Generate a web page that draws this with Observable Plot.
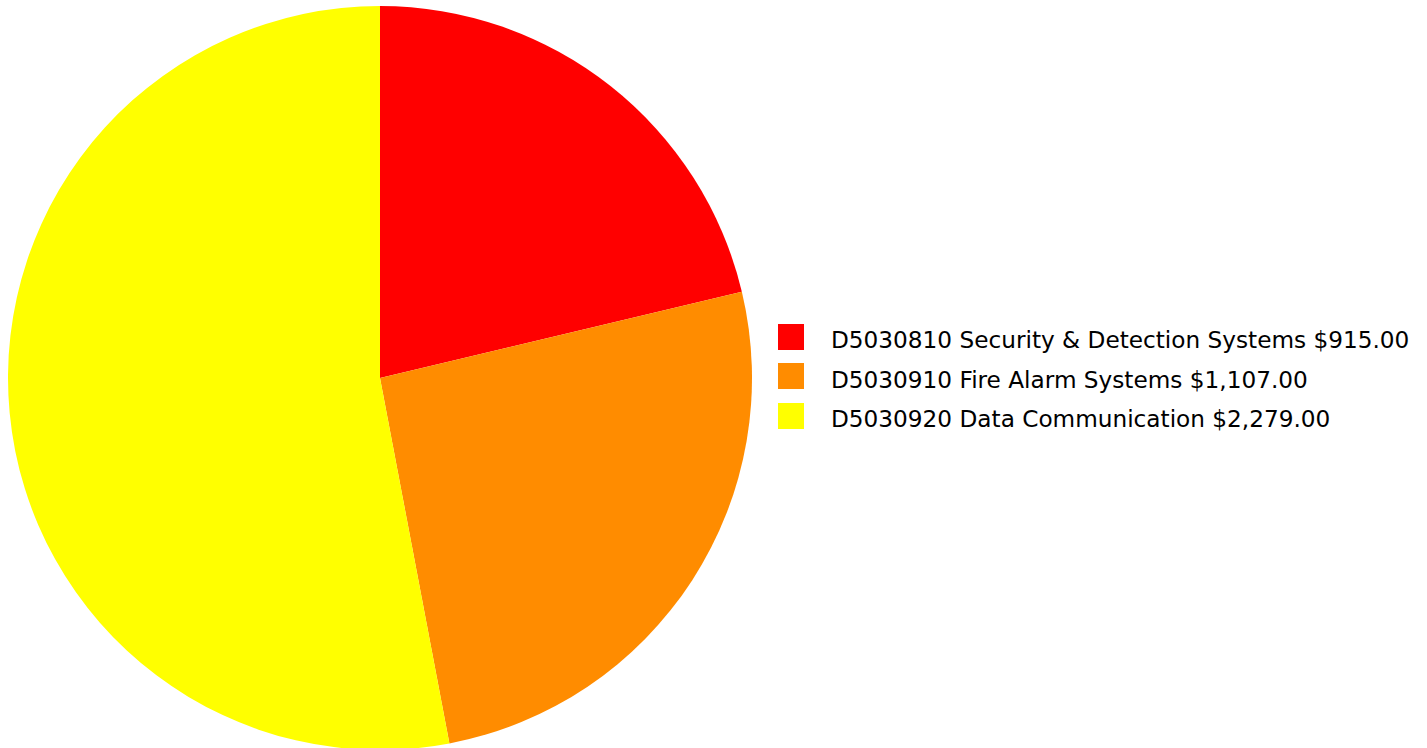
<!DOCTYPE html>
<html>
<head>
<meta charset="utf-8">
<script src="https://cdn.jsdelivr.net/npm/d3@7"></script>
<script src="https://cdn.jsdelivr.net/npm/@observablehq/plot@0.6"></script>
<style>
  html, body { margin: 0; padding: 0; background: #fff; }
  #wrap { position: relative; width: 1427px; height: 748px; overflow: hidden; }
  #legend { position: absolute; left: 778px; top: 317px; font-family: "DejaVu Sans", Tahoma, sans-serif; font-size: 23.2px; color: #000; }
  .row { display: flex; align-items: center; height: 39.5px; }
  .sw { width: 26px; height: 26px; margin-right: 27px; flex: none; }
  .lbl { position: relative; top: 3px; white-space: nowrap; }
</style>
</head>
<body>
<div id="wrap"><div id="legend"></div></div>
<script>
const categories = ["D5030810 Security & Detection Systems", "D5030910 Fire Alarm Systems", "D5030920 Data Communication"];
const values = [915, 1107, 2279];
const colors = ["#ff0000", "#ff8c00", "#ffff00"];

const data = categories.map((c, i) => ({category: c, value: values[i]}));
const fmt = d3.format("$,.2f");

const W = 1427, H = 748;
const cx = 380, cy = 378, R = 372;

const pieMark = (index, scales, values_, dimensions) => {
  const arcs = d3.pie().sort(null).value(d => d.value)(data);
  const arc = d3.arc().innerRadius(0).outerRadius(R);
  const g = d3.create("svg:g").attr("transform", `translate(${cx},${cy})`);
  g.selectAll("path").data(arcs).join("path")
    .attr("d", arc)
    .attr("fill", d => scales.color(d.data.category));
  return g.node();
};

const chart = Plot.plot({
  width: W,
  height: H,
  margin: 0,
  x: {axis: null, domain: [0, 1]},
  y: {axis: null, domain: [0, 1]},
  color: {domain: categories, range: colors},
  marks: [
    Plot.dot(data, {x: () => 0, y: () => 0, fill: "category", r: 0}),
    pieMark
  ]
});
chart.style.position = "absolute";
chart.style.left = "0";
chart.style.top = "0";
document.getElementById("wrap").prepend(chart);

const legend = d3.select("#legend");
data.forEach((d, i) => {
  const row = legend.append("div").attr("class", "row");
  row.append("div").attr("class", "sw").style("background", colors[i]);
  row.append("span").attr("class", "lbl").text(`${d.category} ${fmt(d.value)}`);
});
</script>
</body>
</html>
